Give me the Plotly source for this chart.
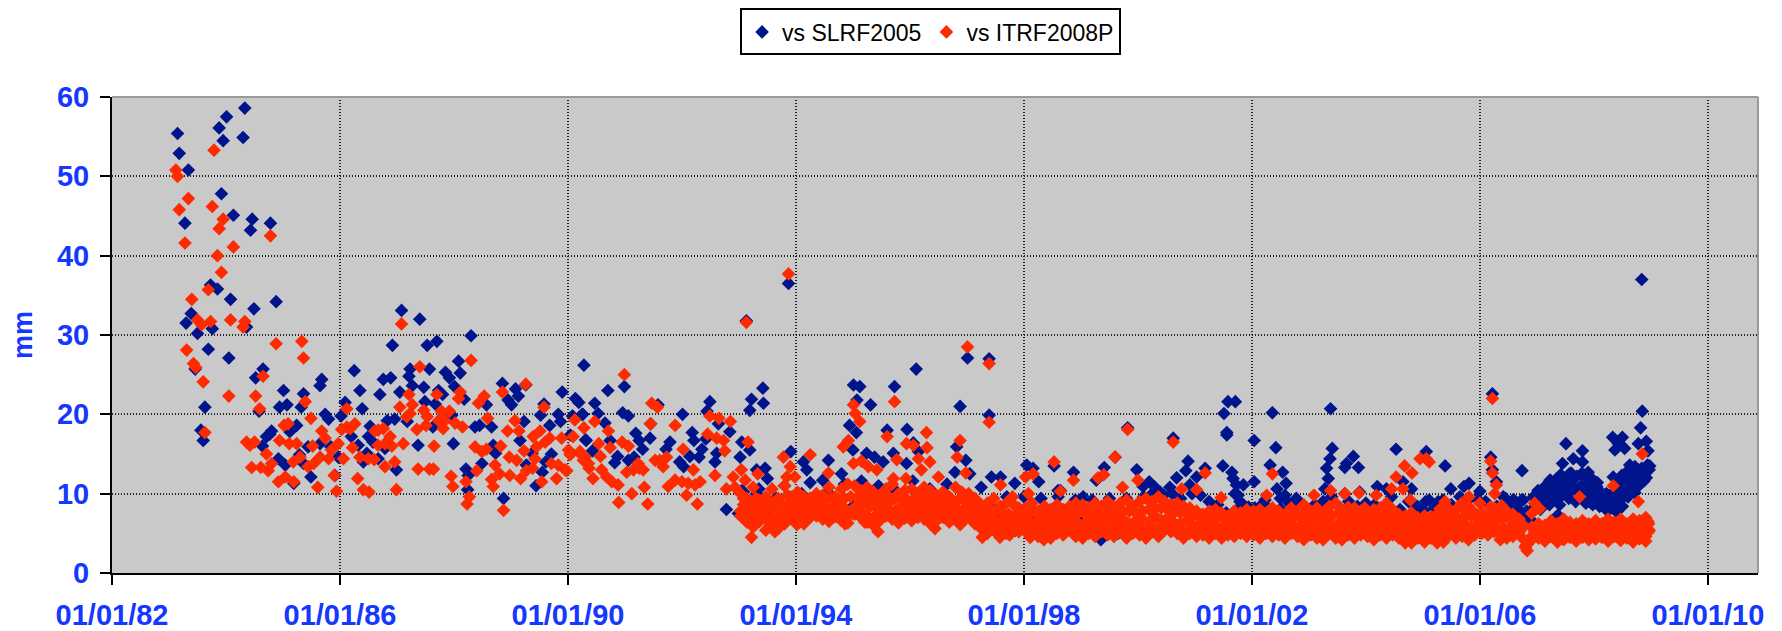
import plotly.graph_objects as go

tick_years = [1982, 1986, 1990, 1994, 1998, 2002, 2006, 2010]
tick_labels = ["01/01/82", "01/01/86", "01/01/90", "01/01/94", "01/01/98", "01/01/02", "01/01/06", "01/01/10"]
mm_ticks = [0, 10, 20, 30, 40, 50, 60]

blue_early_year = [1983.15,1983.18,1983.34,1983.88,1984.01,1984.33,1983.95,1984.30,1983.92,1983.28,1984.13,1984.46,1984.43,1984.78,1983.73,1983.85,1984.08,1984.49,1984.88,1983.39,1983.30,1983.50,1983.76,1984.36,1983.69,1984.05,1983.63,1983.56,1983.60,1983.46,1984.65,1984.52,1985.65,1985.68,1986.25,1987.08,1987.40,1986.92,1987.53,1987.70,1988.30,1988.08,1988.11,1987.85,1987.92,1987.23,1987.21,1987.57,1987.27,1987.47,1988.01,1986.89,1986.76,1986.35,1986.70,1987.05,1987.73,1987.80,1985.01,1985.36,1984.94,1985.07,1985.32,1984.58,1985.74,1985.80,1986.09,1986.39,1986.02,1987.49,1987.67,1988.18,1988.57,1988.85,1989.08,1989.13,1988.95,1989.01,1989.26,1989.58,1989.52,1989.83,1989.90,1990.13,1990.19,1990.28,
1990.08,1990.25,1989.87,1989.23,1989.16,1989.68,1990.04,1990.31,1989.71,1989.61,1989.44,1989.55,1989.37,1989.27,1988.87,1988.21,1988.25,1988.24,1988.49,1988.37,1988.66,1988.45,1988.69,1988.73,1987.37,1987.99,1987.96,1987.63,1987.18,1986.96,1986.83,1986.99,1986.53,1986.50,1986.58,1986.79,1986.67,1986.47,1986.41,1986.32,1986.20,1985.97,1985.91,1985.84,1985.65,1985.44,1985.49,1985.36,1985.29,1985.19,1985.04,1984.92,1985.24,1985.12,1984.80,1984.71,1984.64,1984.77]
blue_early_mm = [55.4,52.9,50.8,56.1,57.5,58.6,54.5,54.9,47.8,44.1,45.1,44.6,43.2,44.1,36.3,35.8,34.5,33.3,34.2,32.7,31.5,30.2,30.8,31.0,28.2,27.1,20.9,18.0,16.7,25.7,25.7,24.6,23.6,24.4,25.5,33.1,32.0,28.7,28.7,29.2,29.9,26.7,25.2,25.3,24.6,25.7,24.8,25.7,23.6,23.4,23.5,24.6,24.4,23.0,22.5,22.8,23.0,22.5,23.0,22.6,20.9,21.2,20.9,20.4,20.0,19.4,21.5,20.7,19.8,21.6,21.3,21.9,21.2,23.9,23.2,22.3,21.8,21.2,23.7,21.3,19.9,20.0,22.8,22.0,21.5,26.2,
19.8,20.0,19.1,19.1,16.7,18.6,17.4,16.8,15.0,14.0,11.0,12.7,15.1,13.6,9.4,13.1,12.3,10.5,13.8,18.4,18.4,18.6,16.1,15.1,16.1,16.3,19.9,18.4,19.1,19.4,19.2,13.0,18.5,17.2,16.5,15.7,14.4,15.1,14.0,16.1,17.2,14.6,12.3,15.9,16.3,15.9,12.1,13.8,14.9,11.3,13.6,14.4,18.6,17.8,17.9,17.2,16.0,17.5]

blue_mid_year = [1990.47,1990.70,1990.99,1990.53,1990.96,1991.06,1990.65,1990.74,1990.32,1990.43,1990.26,1991.19,1991.25,1991.31,1991.44,1991.45,1991.58,1992.01,1992.18,1992.21,1991.79,1991.72,1990.87,1990.82,1991.06,1991.16,1991.96,1992.03,1992.14,1992.35,1992.30,1992.42,1992.49,1992.44,1992.64,1992.84,1993.05,1993.19,1993.02,1992.61,1992.58,1993.22,1993.19,1993.42,1993.43,1993.13,1993.87,1993.91,1994.13,1993.46,1993.31,1993.50,1994.19,1994.57,1994.47,1994.80,1995.01,1995.12,1995.07,1995.31,1995.73,1996.11,1997.01,1997.39,1996.88,1997.39,1994.94,1995.06,1995.00,1995.24,1995.38,1995.53,1995.71,1995.60,1995.95,1996.06,1996.15,1995.94,1996.82,1996.98,1997.05,1996.79,1997.43,1997.59,1997.84,1998.05,1998.16,1998.26,1998.53,1998.60,1993.31,1993.08,1992.78,1992.99,1993.37,1993.98]
blue_mid_mm = [21.4,23.0,23.5,20.1,20.2,19.8,18.9,16.7,16.7,15.4,20.0,17.6,16.7,15.6,17.0,18.8,21.2,20.0,17.7,16.7,16.5,15.6,14.7,13.9,14.2,14.6,14.0,13.4,14.7,15.6,14.6,16.9,21.6,20.4,18.8,17.8,16.5,15.5,14.6,15.1,14.0,21.9,20.5,23.3,21.4,31.8,36.5,15.3,14.0,13.2,13.0,11.9,13.0,14.2,11.7,12.5,23.7,23.5,21.8,21.2,23.5,25.7,27.1,27.0,21.0,19.9,18.6,17.7,15.5,15.1,14.6,14.0,15.1,18.0,18.1,16.4,15.3,13.8,15.9,14.2,12.5,12.7,12.1,12.1,11.3,13.6,13.2,11.5,13.5,10.4,10.0,10.2,8.0,7.5,9.2,9.4]

blue_late_year = [1998.87,1998.64,1999.27,1999.41,1999.60,1999.04,1998.95,1999.82,1999.98,2000.62,2000.88,2000.84,2000.68,2001.03,2001.18,2000.20,2000.09,2000.39,2000.56,2000.91,2001.58,2001.71,2001.51,2001.56,2001.56,2001.49,2001.65,2001.67,2001.73,2001.85,2001.76,2001.79,2001.76,2001.94,2002.11,2002.04,2002.04,2002.36,2002.42,2002.32,2002.54,2002.60,2002.44,2002.58,2002.78,2002.81,2002.50,2002.23,2003.38,2003.41,2003.37,2003.31,2003.34,2003.66,2003.78,2003.87,2003.63,2003.28,2003.63,2003.89,2004.20,2004.36,2003.19,2003.81,
2004.53,2005.06,2005.39,2004.65,2004.80,2005.49,2005.81,2005.72,2006.00,2005.11,2005.27,2005.01,2006.22,2006.19,2006.22,2006.29,2006.41,2006.74,2006.58,2006.73,2006.85,2006.35,2007.02,2006.94,2007.05,2007.23,2007.35,2007.29,2007.51,2007.45,2007.64,2007.80,2007.80,2007.57,2007.78,2007.90,2007.40,2007.61,2007.93,2007.49,2007.35,2007.17,2007.37,2007.87,2008.05,2008.22,2008.16,2007.99,2008.40,2008.46,2008.11,2008.28,2008.33,2008.50,2008.37,2008.54,2008.43,2008.85,2008.82,2008.78,2008.92,2008.95,2008.98,2008.63,2008.72,2008.34,2008.49,2008.57,2008.87,2008.78,2008.69,2008.57,2008.72,2008.84]
blue_late_mm = [12.7,10.4,11.7,13.3,14.6,9.6,9.0,18.3,13.0,17.0,14.1,12.9,12.0,12.1,13.2,11.5,10.9,10.2,10.8,11.1,21.6,21.6,20.1,17.7,17.4,13.5,12.7,11.9,11.1,11.1,9.8,9.0,8.1,8.3,8.1,16.7,11.5,20.2,15.8,13.6,12.7,11.3,10.6,9.8,9.4,8.1,8.1,9.2,20.7,15.7,14.4,13.2,11.9,13.8,14.7,13.3,13.3,10.6,10.0,10.2,10.9,10.6,7.3,7.9,
15.6,15.3,13.5,11.5,10.6,10.6,11.3,10.9,10.3,9.2,9.0,7.9,22.6,14.6,13.0,11.5,9.6,12.9,9.2,9.2,6.6,7.1,10.4,9.6,8.8,11.7,11.9,10.4,16.3,13.8,14.4,15.4,14.0,12.5,12.5,12.7,11.3,11.7,11.7,10.0,9.2,8.8,7.3,9.8,10.9,10.0,8.5,8.8,7.7,9.2,9.6,9.2,17.1,17.1,15.5,15.7,16.3,20.4,18.3,16.3,16.6,15.4,13.5,13.6,13.4,12.1,12.3,12.7,12.1,13.0,11.7,10.9,10.1,37.0]

blue_band_year = [1993.05,1993.2,1993.35,1993.5,1993.65,1993.8,1993.95,1994.1,1994.25,1994.4,1994.55,1994.7,1994.85,1995.0,1995.15,1995.3,1995.45,1995.6,1995.75,1995.9,1996.05,1996.2,1996.35,1996.5,1996.65,1996.8,1996.95,1997.1,1997.25,1997.4,1997.55,1997.7,1997.85,1998.0,1998.15,1998.3,1998.45,1998.6,1998.75,1998.9,1999.05,1999.2,1999.35,1999.5,1999.65,1999.8,1999.95,2000.1,2000.25,2000.3,2000.45,2000.6,2000.75,2000.95,2001.1,2001.25,2001.4,2001.55,2001.7,2001.85,2002.05,2002.2,2002.35,2002.5,2002.65,2002.8,2002.95,2003.1,2003.25,2003.4,2003.55,2003.7,2003.85,2004.0,2004.15,2004.3,2004.45,2004.6,2004.75,2004.9,2005.05,2005.2,2005.35,2005.5,2005.65,2005.8,2005.95,2006.1,2006.25,
2006.3,2006.38,2006.45,2006.52,2006.6,2006.68,2006.76,2006.82,2006.88,2006.94,2007.0,2007.06,2007.1,2007.15,2007.2,2007.25,2007.3,2007.35,2007.4,2007.42,2007.47,2007.52,2007.56,2007.6,2007.65,2007.7,2007.72,2007.78,2007.82,2007.86,2007.9,2007.95,2007.98,2008.02,2008.06,2008.1,2008.15,2008.2,2008.24,2008.28,2008.32,2008.36,2008.4,2008.44,2008.48,2008.5,2008.54,2008.58,2008.62,2008.66,2008.7,2008.74,2008.8,2008.84,2008.9,2008.94,2008.97,
2007.12,2007.22,2007.32,2007.44,2007.5,2007.58,2007.62,2007.68,2007.75,2007.84,2007.92,2008.0,2008.08,2008.18,2008.26,2008.34,2008.42,2008.52,2008.56,2008.6,2008.64,2008.68,2008.72,2008.76,2008.82,2008.88,2008.92,2006.34,2006.42,2006.55,2006.65,2006.72,2006.9,2007.04]
blue_band_mm = [10.4,9.0,10.6,8.0,9.4,11.0,8.4,10.0,11.4,9.0,10.2,8.0,11.2,8.4,11.6,9.0,11.0,8.0,10.4,8.6,11.6,9.4,10.6,8.2,11.2,7.6,9.8,8.0,10.8,8.6,6.6,9.6,5.4,9.6,7.0,9.4,5.4,9.6,6.4,9.2,7.2,9.2,4.2,9.4,5.0,9.4,5.6,9.6,10.0,10.8,9.8,10.0,9.4,10.0,9.8,9.0,8.6,7.6,10.0,8.6,8.2,8.8,8.0,9.4,8.8,9.0,8.0,8.6,9.0,9.6,8.2,9.0,8.4,8.8,8.6,8.2,9.6,8.0,9.0,8.4,9.0,8.2,9.2,8.6,9.6,9.2,9.4,9.0,8.0,
8.4,7.4,9.4,8.2,9.2,8.0,9.2,7.8,6.8,8.2,9.8,8.0,9.4,11.0,10.0,11.6,9.6,11.2,8.6,12.4,10.4,12.0,9.4,12.6,10.8,12.2,9.4,11.0,12.4,8.8,10.4,12.0,8.6,10.0,11.4,8.4,10.0,9.0,7.8,9.8,8.2,11.0,8.8,9.8,11.8,8.4,10.4,12.2,10.2,13.0,11.2,12.6,12.0,13.2,12.6,13.6,13.0,
9.0,8.6,10.6,9.8,11.2,10.2,11.6,9.0,10.0,10.8,9.2,11.0,9.4,8.6,9.0,9.6,10.6,9.6,11.2,9.6,11.8,10.4,12.0,10.8,11.4,11.6,12.0,7.8,8.6,7.6,8.6,7.2,7.6,9.0]

red_early_year = [1983.79,1983.12,1983.15,1983.34,1983.18,1983.76,1983.95,1983.88,1983.28,1984.78,1984.13,1983.85,1983.92,1983.69,1983.40,1984.08,1983.50,1983.73,1983.57,1984.33,1984.30,1984.88,1985.33,1985.36,1983.31,1983.43,1983.47,1983.60,1984.05,1984.52,1984.59,1984.65,1983.63,1987.08,1987.40,1988.30,1987.70,1987.21,1988.08,1988.11,1988.43,1988.53,1988.85,1989.26,1989.58,1986.12,1985.39,1985.49,1987.05,1987.27,1987.23,1987.17,1987.47,1987.53,1987.78,1987.92,1987.73,1987.84,1987.81,1988.02,1988.15,1987.35,1987.51,1988.59,1989.07,1988.94,1989.14,1989.39,1989.51,1989.45,1989.23,1989.42,1989.68,1989.60,1989.89,1990.01,1990.21,1990.04,1990.27,1989.71,1989.83,1989.98,1989.80,1989.54,1989.17,1989.38,1989.27,1990.37,1988.98,1988.80,1988.72,1988.97,1989.10,1988.82,1988.37,1988.57,1988.49,1988.40,1987.95,1987.98,1988.21,1988.27,1988.23,1988.87,1988.66,1988.69,1987.37,1987.57,1987.64,1987.65,1987.11,1986.91,1986.88,1986.79,1986.67,1986.61,1986.76,1986.67,1986.96,1986.79,1986.99,1986.51,1986.41,1986.31,1986.60,1986.50,1986.35,1986.22,1986.06,1985.97,1986.03,1986.12,1986.26,1986.18,1985.94,1985.90,1985.61,1985.19,1985.04,1984.92,1984.80,1984.74,1984.61,1984.45,1984.71,1984.36,1984.50,1984.42,1984.94,1985.11,1985.24,1985.02,1985.09,1985.68,1985.74,1985.52,1985.18,1985.30,1985.44,1985.54,1985.65,1985.80,1985.85]
red_early_mm = [53.3,50.8,50.0,47.2,45.8,46.2,44.6,43.4,41.6,42.5,41.1,40.0,37.9,35.7,34.5,31.9,31.9,31.7,31.3,31.7,31.0,28.9,29.2,27.1,28.1,26.4,25.9,24.1,22.3,22.3,20.7,24.8,17.7,31.4,26.0,26.8,22.5,22.5,22.0,22.8,21.4,22.3,22.8,23.8,20.9,20.7,21.6,19.5,20.9,21.2,20.1,19.7,20.5,19.7,20.4,20.4,19.2,19.2,18.2,18.9,18.4,18.1,18.6,19.5,19.2,17.9,17.9,17.2,17.9,15.9,15.4,14.4,17.0,16.5,17.0,15.5,15.1,14.9,14.2,13.8,13.6,12.9,11.9,11.5,11.9,13.2,12.9,13.2,12.3,12.5,13.6,14.6,14.2,16.0,15.9,15.6,15.3,12.9,12.2,10.9,11.5,9.6,8.7,7.9,11.8,10.9,13.1,13.1,13.1,16.0,16.3,16.0,17.2,16.3,16.1,17.9,18.2,18.0,14.0,13.4,10.5,10.2,10.5,11.9,14.3,14.4,14.6,15.8,14.4,16.3,18.1,18.4,18.8,18.2,10.3,12.3,10.8,11.5,12.1,11.5,13.8,12.9,13.3,13.3,15.0,16.5,16.5,16.1,16.7,16.3,16.3,18.6,18.8,17.9,17.0,16.0,14.0,14.6,13.4,13.8,14.6,14.4,15.5]

red_mid_year = [1990.12,1990.28,1990.09,1990.47,1990.71,1990.54,1990.74,1990.57,1990.99,1991.45,1991.47,1991.57,1990.95,1991.06,1991.88,1992.02,1992.45,1992.49,1992.65,1992.85,1992.61,1992.73,1992.75,1992.20,1991.61,1991.73,1991.67,1991.53,1991.23,1991.25,1991.03,1991.15,1991.32,1990.04,1990.21,1990.30,1989.95,1990.36,1990.44,1990.59,1990.68,1990.77,1990.88,1990.89,1991.12,1991.34,1991.40,1991.76,1991.88,1992.0,1992.11,1992.23,1992.32,1992.08,1992.27,1992.58,1992.78,1992.93,1992.90,1993.04,1993.11,1993.16,1993.33,1993.78,1994.25,1993.90,1993.98,1993.84,1993.87,1993.13,1993.22,1993.63,1995.44,1995.21,1994.86,1994.02,1996.44,1996.88,1997.27,1997.58,1997.75,1998.11,1998.35,1995.01,1995.04,1995.12,1995.73,1994.92,1994.83,1997.01,1997.39,1997.39,1995.60,1995.94,1996.06,1996.29,1996.30,1996.15,1996.35,1996.88,1996.83,1996.98,1996.50,1996.20,1995.77,1995.93,1995.01,1995.15,1995.27,1995.42,1994.57,1995.71,1997.59,1998.03,1998.16,1998.08,1998.53,
1999.82,2000.62,1999.60,1998.87,1998.64,1999.30,1999.40,2000.0,1999.73,2000.77,2001.03,2001.18,2001.46,2002.36,2002.26,2003.09,2003.38,2003.63,2003.88,2004.18,2004.36,2003.98,2003.69,
2006.22,2006.19,2006.22,2006.29,2006.26,2004.95,2005.06,2005.11,2004.68,2004.81,2004.53,2004.65,2004.78,2004.45,2007.75,2008.34,2008.85,2008.78,2006.96,2007.05,2006.91,2006.38,2005.81,2005.68,2005.39,2005.30,2005.15,2006.0,2006.18,2008.97,2008.95]
red_mid_mm = [19.3,18.3,17.2,19.1,17.9,16.3,15.8,14.7,25.0,18.8,21.4,20.9,16.5,16.0,18.6,15.6,17.5,19.8,19.5,19.1,17.0,16.7,15.4,13.0,14.2,14.6,13.4,14.2,13.8,13.2,12.7,13.0,13.0,15.1,15.3,14.6,13.0,13.8,11.9,13.0,12.1,11.5,11.1,8.9,10.0,10.8,8.7,10.9,11.7,11.5,11.3,11.1,11.5,9.8,8.7,12.3,10.6,10.8,12.1,13.0,11.7,16.5,12.5,14.6,14.9,13.4,12.1,12.1,37.7,31.6,4.5,5.2,5.2,6.4,6.2,6.1,5.6,6.1,4.5,4.5,4.8,4.5,4.2,21.2,20.1,19.1,21.6,16.7,15.9,28.5,26.4,19.0,17.2,16.3,16.1,17.7,15.8,14.4,14.0,16.7,14.6,12.6,12.1,13.0,14.3,11.9,13.8,14.1,13.4,13.0,12.6,11.9,11.1,12.1,12.5,10.0,14.0,
18.1,16.5,14.6,11.7,10.3,12.0,12.4,11.7,10.8,10.6,10.5,12.6,9.5,12.5,9.8,9.8,10.4,10.0,10.1,9.8,8.8,8.2,8.3,
22.0,14.1,12.6,11.1,10.0,14.4,14.4,14.0,13.5,12.6,12.1,10.6,9.2,10.6,9.6,11.0,15.0,9.0,8.8,8.1,7.5,8.5,9.6,8.8,9.0,8.1,7.1,8.8,8.3,5.4,6.5]

band_year_a = [
1993.03,1993.14,1993.25,1993.36,1993.47,1993.58,1993.69,1993.80,1993.91,
1994.03,1994.14,1994.25,1994.36,1994.47,1994.58,1994.69,1994.80,1994.91,
1995.03,1995.14,1995.25,1995.36,1995.47,1995.58,1995.69,1995.80,1995.91,
1996.03,1996.14,1996.25,1996.36,1996.47,1996.58,1996.69,1996.80,1996.91,
1997.03,1997.14,1997.25,1997.36,1997.47,1997.58,1997.69,1997.80,1997.91,
1998.03,1998.14,1998.25,1998.36,1998.47,1998.58,1998.69,1998.80,1998.91,
1999.03,1999.14,1999.25,1999.36,1999.47,1999.58,1999.69,1999.80,1999.91,
2000.03,2000.14,2000.25,2000.36,2000.47,2000.58,2000.69,2000.80,2000.91,
2001.03,2001.14,2001.25,2001.36,2001.47,2001.58,2001.69,2001.80,2001.91,
2002.03,2002.14,2002.25,2002.36,2002.47,2002.58,2002.69,2002.80,2002.91,
2003.03,2003.14,2003.25,2003.36,2003.47,2003.58,2003.69,2003.80,2003.91,
2004.03,2004.14,2004.25,2004.36,2004.47,2004.58,2004.69,2004.80,2004.91,
2005.03,2005.14,2005.25,2005.36,2005.47,2005.58,2005.69,2005.80,2005.91,
2006.03,2006.14,2006.25,2006.36,2006.47,2006.58,2006.69,2006.80,2006.91,
2007.03,2007.14,2007.25,2007.36,2007.47,2007.58,2007.69,2007.80,2007.91,
2008.03,2008.14,2008.25,2008.36,2008.47,2008.58,2008.69,2008.80,2008.91]
band_year_b = [
1993.08,1993.19,1993.30,1993.41,1993.52,1993.63,1993.74,1993.85,1993.96,
1994.08,1994.19,1994.30,1994.41,1994.52,1994.63,1994.74,1994.85,1994.96,
1995.08,1995.19,1995.30,1995.41,1995.52,1995.63,1995.74,1995.85,1995.96,
1996.08,1996.19,1996.30,1996.41,1996.52,1996.63,1996.74,1996.85,1996.96,
1997.08,1997.19,1997.30,1997.41,1997.52,1997.63,1997.74,1997.85,1997.96,
1998.08,1998.19,1998.30,1998.41,1998.52,1998.63,1998.74,1998.85,1998.96,
1999.08,1999.19,1999.30,1999.41,1999.52,1999.63,1999.74,1999.85,1999.96,
2000.08,2000.19,2000.30,2000.41,2000.52,2000.63,2000.74,2000.85,2000.96,
2001.08,2001.19,2001.30,2001.41,2001.52,2001.63,2001.74,2001.85,2001.96,
2002.08,2002.19,2002.30,2002.41,2002.52,2002.63,2002.74,2002.85,2002.96,
2003.08,2003.19,2003.30,2003.41,2003.52,2003.63,2003.74,2003.85,2003.96,
2004.08,2004.19,2004.30,2004.41,2004.52,2004.63,2004.74,2004.85,2004.96,
2005.08,2005.19,2005.30,2005.41,2005.52,2005.63,2005.74,2005.85,2005.96,
2006.08,2006.19,2006.30,2006.41,2006.52,2006.63,2006.74,2006.83,2006.96,
2007.08,2007.19,2007.30,2007.41,2007.52,2007.63,2007.74,2007.85,2007.96,
2008.08,2008.19,2008.30,2008.41,2008.52,2008.63,2008.74,2008.85,2008.96]
band_low = [
7.2,6.4,5.8,6.5,5.4,6.1,5.6,6.2,6.9,
6.6,6.2,7.0,7.2,6.8,6.5,7.1,6.6,6.3,
7.4,7.0,6.4,6.0,6.6,7.2,6.8,6.3,6.9,
6.6,7.0,6.8,6.2,6.6,7.0,6.4,6.8,6.3,
7.0,6.2,5.6,5.0,5.4,4.8,5.0,5.8,5.2,
5.2,4.8,4.6,5.0,4.4,5.0,4.8,5.4,4.6,
4.4,5.0,4.6,5.2,4.8,4.6,5.4,4.4,5.0,
4.8,4.4,5.2,4.6,5.4,5.2,5.0,4.4,5.0,
4.6,4.8,4.4,5.0,4.4,4.8,4.6,5.0,4.6,
4.8,4.4,5.0,4.6,4.8,4.4,5.0,4.6,4.2,
4.8,4.4,4.2,5.0,4.4,4.2,4.8,4.4,4.8,
4.6,4.2,4.8,4.4,4.8,4.4,3.8,3.8,4.4,
3.9,4.4,3.8,3.9,4.8,4.4,4.6,4.2,4.8,
5.0,4.8,5.2,4.2,4.4,4.6,4.8,3.4,4.2,
4.4,4.0,4.6,3.9,4.2,4.5,4.0,4.5,4.2,
4.3,4.5,4.0,4.6,4.1,4.4,3.9,4.3,4.0]
band_lower = [
7.8,7.0,7.2,6.9,6.8,7.0,6.8,7.4,7.3,
7.4,7.2,7.6,8.0,7.4,7.2,7.8,7.4,7.0,
8.0,7.8,7.2,7.0,7.4,8.0,7.2,7.4,7.4,
7.4,7.6,7.8,7.2,7.6,7.4,7.2,7.4,7.2,
7.6,7.0,6.2,6.0,6.0,5.6,5.6,6.4,5.8,
5.8,5.4,5.6,5.4,5.2,5.8,5.4,6.0,5.4,
5.2,5.8,5.4,5.8,5.8,5.4,6.0,5.2,5.8,
5.8,5.2,6.0,5.4,6.2,5.8,5.6,5.2,5.4,
5.4,5.2,5.2,5.4,5.2,5.4,5.2,5.6,5.0,
5.4,5.2,5.4,5.4,5.4,5.2,5.4,5.2,5.2,
5.4,5.2,5.2,5.6,5.2,5.0,5.6,5.2,5.4,
5.2,5.2,5.4,5.2,5.6,5.0,4.8,4.6,5.0,
4.8,5.0,4.8,4.6,5.4,5.0,5.4,5.0,5.4,
5.6,5.4,5.8,4.9,5.0,5.4,5.2,3.2,4.6,
4.8,4.5,4.9,4.6,4.9,4.8,4.7,4.8,4.8,
4.8,4.8,4.8,4.9,4.8,4.7,4.6,4.9,4.6]
band_mid = [
8.6,7.9,8.2,7.6,8.3,7.7,8.0,8.6,7.8,
8.2,8.6,8.0,8.8,8.4,8.0,8.7,8.2,7.8,
8.6,9.0,8.4,8.2,8.0,8.8,7.8,8.4,8.0,
8.4,8.0,8.8,8.2,8.6,8.0,8.4,7.8,8.2,
8.4,7.8,7.0,7.2,6.6,6.8,6.2,7.2,6.6,
6.6,6.2,6.8,6.0,6.4,6.6,6.2,6.8,6.2,
6.4,6.8,6.2,6.6,7.0,6.4,6.8,6.2,6.6,
6.8,6.4,7.2,6.6,7.0,6.4,6.2,6.6,6.0,
6.2,5.8,6.2,5.6,6.0,6.2,5.8,6.2,5.6,
6.0,6.4,5.8,6.2,6.0,6.4,5.8,6.0,6.4,
6.2,6.0,6.4,6.0,6.2,5.8,6.4,6.0,6.2,
6.0,6.4,5.8,6.2,6.4,5.8,6.0,5.4,5.8,
5.6,5.2,6.0,5.4,6.0,5.6,6.2,5.8,6.0,
6.2,6.0,6.6,5.6,5.8,6.2,5.6,2.8,5.2,
5.4,5.2,5.0,5.4,5.6,5.2,5.6,5.0,5.6,
5.4,5.0,5.6,5.2,5.6,5.0,5.4,5.6,5.2]
band_upper = [
9.4,8.8,9.4,8.4,9.0,9.0,8.8,9.8,8.8,
9.2,9.2,8.8,9.4,9.2,9.4,9.2,9.4,9.6,
9.6,9.8,9.4,9.2,9.0,9.6,9.4,9.2,9.2,
9.4,9.0,9.8,9.2,9.2,9.0,9.0,9.2,9.2,
9.2,8.6,7.8,8.0,8.0,7.6,7.4,8.4,7.4,
7.4,7.6,7.2,7.2,7.2,7.6,7.2,7.6,7.6,
7.4,7.6,7.4,7.6,8.0,7.4,7.8,7.8,7.6,
7.8,8.0,8.2,8.2,8.0,7.6,7.6,7.6,7.2,
7.0,6.8,7.0,7.0,6.8,6.8,6.8,7.0,6.8,
7.0,7.2,6.8,7.2,7.0,7.0,7.0,7.0,7.6,
7.0,7.2,7.0,7.2,7.6,7.0,7.0,7.2,7.0,
6.8,7.2,7.0,7.0,7.2,6.8,6.8,6.6,6.4,
6.4,6.2,6.8,6.6,7.0,6.8,7.2,7.2,6.8,
7.0,6.8,7.4,6.8,7.0,6.8,6.2,3.6,5.4,
5.8,5.6,5.8,5.8,6.2,5.8,5.9,5.8,5.9,
6.0,5.6,6.2,5.8,6.2,5.6,6.2,6.1,6.2]
band_high = [
10.0,9.4,10.8,9.2,9.6,10.6,9.4,11.0,9.6,
10.2,9.6,9.4,10.0,9.8,10.8,9.6,10.6,11.2,
11.0,10.4,10.8,10.2,9.8,10.6,11.2,10.0,10.4,
10.6,10.0,10.8,10.4,9.8,10.2,9.6,10.8,10.2,
10.0,9.4,8.6,8.8,9.4,8.4,8.8,9.6,8.2,
8.2,8.8,7.8,8.4,8.0,8.6,8.0,8.4,8.8,
8.6,8.2,8.8,8.4,9.0,8.4,8.8,9.2,8.4,
9.0,9.4,9.0,9.6,9.0,8.6,8.8,8.4,8.2,
7.8,7.4,7.8,8.0,7.6,7.2,7.8,7.6,8.0,
7.8,8.0,7.6,8.2,7.8,7.4,8.2,7.8,8.6,
7.8,8.2,7.6,8.4,8.8,8.0,7.6,8.2,7.8,
7.6,8.0,8.2,7.6,8.0,7.4,7.2,7.6,7.0,
7.2,6.8,7.4,7.6,8.0,8.0,8.2,8.4,7.6,
7.6,7.4,8.2,7.6,7.8,7.4,6.8,4.0,5.8,
6.2,6.0,6.6,6.2,6.8,6.4,6.2,6.6,6.2,
6.6,6.2,6.8,6.4,6.8,6.2,6.8,6.6,7.0]

BLUE = "#00148C"
RED = "#FF2A00"
LABEL = "#1438FF"

blue_x = blue_early_year + blue_mid_year + blue_late_year + blue_band_year
blue_y = blue_early_mm + blue_mid_mm + blue_late_mm + blue_band_mm
red_x = red_early_year + red_mid_year + band_year_a + band_year_a + band_year_b + band_year_b + band_year_a
red_y = red_early_mm + red_mid_mm + band_low + band_lower + band_mid + band_upper + band_high

fig = go.Figure()
fig.add_trace(go.Scatter(x=blue_x, y=blue_y, mode="markers", name="vs SLRF2005",
                         marker=dict(symbol="diamond", size=10.5, color=BLUE, line=dict(width=0))))
fig.add_trace(go.Scatter(x=red_x, y=red_y, mode="markers", name="vs ITRF2008P",
                         marker=dict(symbol="diamond", size=10.5, color=RED, line=dict(width=0))))

tickfont = dict(family="Liberation Sans, Arial, sans-serif", size=29, color=LABEL, weight="bold")
fig.update_layout(
    width=1774, height=623, autosize=False,
    margin=dict(l=104, r=24, t=89, b=58, autoexpand=False),
    paper_bgcolor="white", plot_bgcolor="#C9C9C9",
    showlegend=True,
    legend=dict(orientation="h", x=0.4973, xanchor="center", y=1.186, yanchor="top",
                bgcolor="white", bordercolor="black", borderwidth=2,
                font=dict(family="Liberation Sans, Arial, sans-serif", size=23, color="black")),
    xaxis=dict(range=[1982, 2010.88], tickmode="array", tickvals=tick_years, ticktext=tick_labels,
               ticks="outside", ticklen=10, tickwidth=2, tickcolor="black", ticklabelstandoff=5,
               showline=True, linecolor="black", linewidth=2, zeroline=False, automargin=False,
               showgrid=True, gridcolor="#222222", griddash="1px,2px", gridwidth=1.5,
               tickfont=tickfont),
    yaxis=dict(range=[0, 60], tickmode="array", tickvals=mm_ticks,
               ticks="outside", ticklen=10, tickwidth=2, tickcolor="black", ticklabelstandoff=5,
               showline=True, linecolor="black", linewidth=2, zeroline=False, automargin=False,
               showgrid=True, gridcolor="#222222", griddash="1px,2px", gridwidth=1.5,
               tickfont=tickfont,
               title=dict(text="mm", standoff=20,
                          font=dict(family="Liberation Sans, Arial, sans-serif", size=27, color=LABEL, weight="bold"))),
    shapes=[dict(type="line", xref="paper", yref="paper", x0=0, x1=1, y0=1, y1=1, line=dict(color="#999999", width=2)),
            dict(type="line", xref="paper", yref="paper", x0=1, x1=1, y0=0, y1=1, line=dict(color="#999999", width=2))],
)
fig.write_html("out.html")
